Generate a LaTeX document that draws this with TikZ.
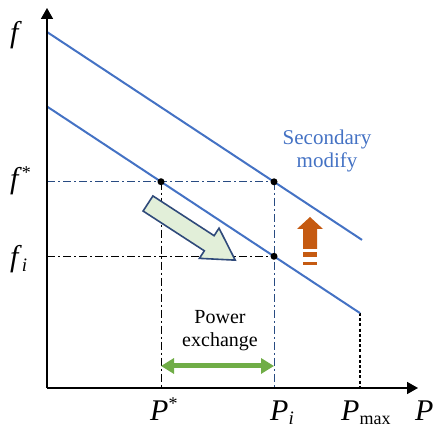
\documentclass[tikz,border=0pt]{standalone}
\usepackage{fontspec}
\setmainfont{Liberation Serif}
\usetikzlibrary{arrows.meta}
\definecolor{lineblue}{HTML}{4472C4}
\definecolor{dashblue}{RGB}{40,75,130}
\definecolor{orng}{HTML}{C55A11}
\definecolor{grn}{HTML}{70AD47}
\definecolor{lgrn}{HTML}{E2EFD9}
\definecolor{arrowedge}{RGB}{47,74,122}
\begin{document}
\begin{tikzpicture}[x=1pt,y=1pt,
  axis/.style={line width=1.6pt,-{Triangle[length=11pt,width=12pt]}},
  curve/.style={lineblue,line width=2pt},
  dashdot/.style={line width=1pt,dash pattern=on 8pt off 3pt on 2pt off 3pt},
  dotpt/.style={circle,fill=black,inner sep=0pt,minimum size=7pt},
  biglabel/.style={inner sep=0pt,anchor=base west,font=\fontsize{30}{30}\selectfont},
  txt/.style={align=center,font=\fontsize{20}{23}\selectfont}]
\useasboundingbox (0,0) rectangle (434,430);
% axes
\coordinate (O) at (47,42);
\coordinate (Ytip) at (47,422);
\coordinate (Xtip) at (418,42);
% lines
\coordinate (U1) at (47,398);
\coordinate (U2) at (362,190.1);
\coordinate (L1) at (47,323.5);
\coordinate (L2) at (360,116.9);
\coordinate (Pa) at (161,248.3);
\coordinate (Pb) at (274,248.2);
\coordinate (Pc) at (274,173.7);
\coordinate (Fs) at (47,248.2);
\coordinate (Fi) at (47,173.7);
\coordinate (Xa) at (161,42);
\coordinate (Xb) at (274,42);
\coordinate (Xc) at (360,42);
% dash-dot guides
\draw[dashdot,dashblue] (Fs) -- (Pb);
\draw[dashdot,dashblue] (Pb) -- (Xb);
\draw[dashdot,black] (Fi) -- (Pc);
\draw[dashdot,black] (Pa) -- (Xa);
\draw[black,line width=2.6pt,dash pattern=on 3pt off 2.2pt] (L2) -- (Xc);
% curves
\draw[curve] (U1) -- (U2);
\draw[curve] (L1) -- (L2);
% axes
\draw[axis] (O) -- (Ytip);
\draw[axis] (O) -- (Xtip);
% points
\node[dotpt] (da) at (Pa) {};
\node[dotpt] (db) at (Pb) {};
\node[dotpt] (dc) at (Pc) {};
% labels
\node[biglabel] (lf) at (10,387) {\textit{f}};
\node[biglabel] (lfs) at (10,241) {\textit{f}\raisebox{10pt}{\fontsize{18}{18}\selectfont *}};
\node[biglabel] (lfi) at (10,163) {\textit{f}\raisebox{-5pt}{\fontsize{19}{19}\selectfont\textit{i}}};
\node[biglabel] (lPs) at (150,9) {\textit{P}\raisebox{11pt}{\fontsize{18}{18}\selectfont *}};
\node[biglabel] (lPi) at (270,9) {\textit{P}\raisebox{-4pt}{\fontsize{19}{19}\selectfont\textit{i}}};
\node[biglabel] (lPm) at (341,9) {\textit{P}\raisebox{-4pt}{\fontsize{18}{18}\selectfont max}};
\node[biglabel] (lP) at (415,9) {\textit{P}};
% texts
\node[txt,text=lineblue,font=\fontsize{21}{23}\selectfont] (sec) at (327,279) {Secondary\\modify};
\node[txt] (pow) at (220,99) {Power\\exchange};
% green double arrow
\coordinate (Ga) at (161,64);
\coordinate (Gb) at (274,64);
\draw[grn,line width=5pt,{Triangle[length=13pt,width=15pt]}-{Triangle[length=13pt,width=15pt]}] (Ga) -- (Gb);
% big green arrow
\begin{scope}[shift={(148,226.5)},rotate=-33]
\draw[arrowedge,fill=lgrn,line width=1.6pt,line join=miter]
  (0,9) -- (73,9) -- (73,18) -- (104,0) -- (73,-18) -- (73,-9) -- (0,-9) -- cycle;
\end{scope}
% orange arrow
\fill[orng] (310,213) -- (323,201) -- (317,201) -- (317,181) -- (303,181) -- (303,201) -- (297,201) -- cycle;
\fill[orng] (303,178) rectangle (317,173);
\fill[orng] (303,168) rectangle (317,165);
\end{tikzpicture}
\end{document}
